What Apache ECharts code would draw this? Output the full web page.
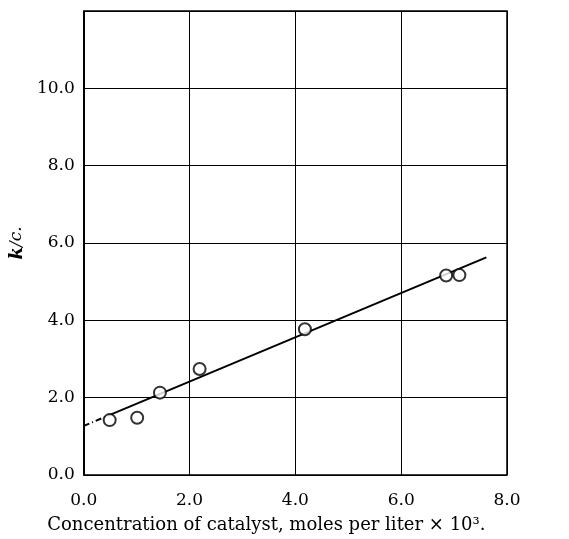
<!DOCTYPE html>
<html><head><meta charset="utf-8">
<script src="https://cdn.jsdelivr.net/npm/echarts@6/dist/echarts.min.js"></script>
<style>html,body{margin:0;padding:0;background:#fff}#c{width:569px;height:539px}</style>
</head><body><div id="c"></div>
<script>
const pointsX = [0.49, 1.01, 1.44, 2.19, 4.18, 6.85, 7.10];
const pointsY = [1.42, 1.48, 2.13, 2.74, 3.77, 5.16, 5.17];
const fitDashedX = [0.0, 0.45];
const fitDashedY = [1.27, 1.53];
const fitSolidX = [0.45, 7.61];
const fitSolidY = [1.53, 5.63];
const xTickLabels = ['0.0','2.0','4.0','6.0','8.0'];
const yTickLabels = ['0.0','2.0','4.0','6.0','8.0','10.0',''];

const zip = (a,b)=>a.map((v,i)=>[v,b[i]]);
const font = '"DejaVu Serif","Liberation Serif",serif';
const chart = echarts.init(document.getElementById('c'));
chart.setOption({
  backgroundColor:'#fff',
  animation:false,
  grid:{left:81,right:62,top:11,bottom:60,show:true,borderColor:'#000',borderWidth:1.5},
  xAxis:{type:'value',min:0,max:8,interval:2,
    name:'Concentration of catalyst, moles per liter \u00d7 10\u00b3.',nameLocation:'middle',nameGap:41,
    nameTextStyle:{fontFamily:font,fontSize:18,color:'#000',padding:[0,58,0,0]},
    axisLine:{show:false},axisTick:{show:false},
    axisLabel:{margin:17,fontFamily:font,fontSize:17,color:'#000',formatter:(v)=>xTickLabels[Math.round(v/2)]},
    splitLine:{show:true,lineStyle:{color:'#000',width:1}}},
  yAxis:{type:'value',min:0,max:12,interval:2,
    name:'{k|k}{c|/c.}',nameLocation:'middle',nameGap:52,nameRotate:90,
    nameTextStyle:{fontFamily:font,fontSize:17,color:'#000',
      rich:{k:{fontFamily:font,fontSize:18,fontStyle:'italic',fontWeight:'bold',color:'#000'},
            c:{fontFamily:font,fontSize:17,fontStyle:'italic',color:'#000'}}},
    axisLine:{show:false},axisTick:{show:false},
    axisLabel:{margin:9,fontFamily:font,fontSize:17,color:'#000',formatter:(v)=>yTickLabels[Math.round(v/2)]},
    splitLine:{show:true,lineStyle:{color:'#000',width:1}}},
  series:[
    {type:'line',data:zip(fitDashedX,fitDashedY),symbol:'none',lineStyle:{color:'#000',width:2,type:[6,3,1,3]},z:2},
    {type:'line',data:zip(fitSolidX,fitSolidY),symbol:'none',lineStyle:{color:'#000',width:2},z:2},
    {type:'scatter',data:zip(pointsX,pointsY),symbol:'circle',symbolSize:12,
      itemStyle:{color:'#fff',borderColor:'#000',borderWidth:2},z:3}
  ]
});
</script></body></html>
